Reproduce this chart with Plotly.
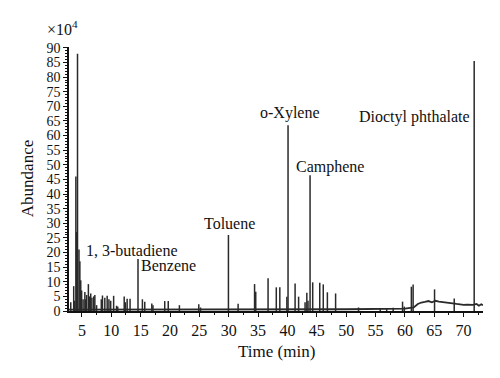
import plotly.graph_objects as go

# Peak retention times (min) and abundances (x10^4)
peak_times = [3.1, 3.6, 3.75, 3.97, 4.1, 4.25, 4.5, 4.65, 4.8, 4.95, 5.2, 5.5, 5.65, 5.8,
              6.1, 6.3, 6.5, 6.7, 7.0, 7.2, 7.5, 8.3, 8.5, 8.9, 9.3, 9.6, 9.9, 10.4, 10.9,
              11.1, 12.2, 12.4, 12.7, 13.2, 14.55, 15.3, 15.7, 16.9, 17.1, 19.1, 19.7,
              21.6, 24.9, 25.2, 29.95, 31.6, 34.4, 34.6, 36.7, 38.1, 38.7, 39.9, 40.1,
              41.3, 41.9, 43.0, 43.3, 43.5, 43.85, 44.3, 45.5, 46.1, 46.8, 48.2, 52.1,
              55.8, 56.9, 58.0, 59.6, 59.9, 61.1, 61.4, 65.05, 68.4, 71.8]
peak_heights = [3, 8.5, 3.5, 46, 27, 88, 21, 17, 10.5, 7, 4, 6.5, 4, 5.5,
                9.2, 5, 6, 4.5, 5, 5.5, 2, 4, 5.3, 4.5, 5.2, 4, 3.5, 5.2, 1.8,
                1.5, 5, 3, 4.2, 4.2, 17.8, 4, 3.2, 2.6, 2, 3.4, 3.4,
                2.0, 2.3, 1.2, 26, 2.5, 9.2, 6.6, 11.2, 8.1, 8.1, 4.9, 63.5,
                9.4, 4.9, 3, 6.2, 3.5, 46.4, 9.8, 9.7, 9.1, 6.4, 6.0, 1.2,
                1.0, 1.0, 1.1, 3.2, 1.5, 8.3, 9.1, 7.4, 4.3, 85.5]

# Baseline (including late-eluting hump)
base_times = [2.8, 10, 20, 30, 40, 50, 60, 61.5, 62.2, 62.8, 63.4, 64.0, 64.6, 65.2,
              65.8, 66.4, 67.0, 67.6, 68.2, 68.8, 69.4, 70.0, 70.6, 71.2, 71.6, 72.2,
              72.6, 73.0, 73.3]
base_values = [0.5, 0.5, 0.5, 0.5, 0.6, 0.6, 0.8, 1.2, 2.4, 2.9, 3.1, 3.4, 3.0, 3.5,
               3.2, 3.0, 2.9, 2.7, 2.5, 2.4, 2.3, 2.1, 2.2, 2.0, 2.1, 2.4,
               1.8, 2.3, 2.0]

labels = ["1, 3-butadiene", "Benzene", "Toluene", "o-Xylene", "Camphene", "Dioctyl phthalate"]
label_x = [13.6, 19.7, 30.1, 40.4, 47.2, 61.7]
label_y = [20.8, 15.7, 30.0, 67.6, 49.1, 66.2]

FONT = "Liberation Serif"
INK = "#2a2a2a"

sx, sy = [], []
for t, h in zip(peak_times, peak_heights):
    sx += [t, t, None]
    sy += [0, h, None]

fig = go.Figure()
fig.add_trace(go.Scatter(x=base_times, y=base_values, mode="lines",
                         line=dict(color=INK, width=1.8), hoverinfo="skip"))
fig.add_trace(go.Scatter(x=sx, y=sy, mode="lines",
                         line=dict(color=INK, width=1.5), hoverinfo="skip"))

for txt, x, y in zip(labels, label_x, label_y):
    fig.add_annotation(x=x, y=y, xref="x", yref="y", text=txt, showarrow=False,
                       xanchor="center", yanchor="middle",
                       font=dict(family=FONT, size=16, color="#111"))

fig.add_annotation(x=-0.0145, y=1.072, xref="paper", yref="paper", text="×10<sup>4</sup>",
                   showarrow=False, xanchor="center", yanchor="middle",
                   font=dict(family=FONT, size=16, color="#111"))
fig.add_annotation(x=-0.101, y=0.5, xref="paper", yref="paper", text="Abundance",
                   textangle=-90, showarrow=False, xanchor="center", yanchor="middle",
                   font=dict(family=FONT, size=17, color="#111"))
fig.add_annotation(x=0.502, y=-0.155, xref="paper", yref="paper", text="Time (min)",
                   showarrow=False, xanchor="center", yanchor="middle",
                   font=dict(family=FONT, size=17, color="#111"))

fig.update_layout(
    width=500, height=378,
    margin=dict(l=69, r=17, t=47, b=67),
    paper_bgcolor="white", plot_bgcolor="white",
    showlegend=False,
    font=dict(family=FONT, size=16, color="#111"),
)
fig.update_xaxes(range=[2.8, 73.3], tickmode="linear", tick0=0, dtick=5,
                 showline=True, linecolor="#111", linewidth=1.5, showgrid=False,
                 zeroline=False, ticks="outside", ticklen=4, tickcolor="#111",
                 minor=dict(dtick=2.5, ticks="outside", ticklen=2, tickcolor="#111"),
                 tickfont=dict(family=FONT, size=16, color="#111"))
fig.update_yaxes(range=[0, 90.3], tickmode="linear", tick0=0, dtick=5,
                 showline=True, linecolor="#111", linewidth=1.5, showgrid=False,
                 zeroline=False, ticks="outside", ticklen=4, tickcolor="#111",
                 minor=dict(dtick=1, ticks="outside", ticklen=2, tickcolor="#111"),
                 tickfont=dict(family=FONT, size=14, color="#111"))

fig.write_html("out.html", config={"displayModeBar": False},
               post_script="document.body.style.margin='0';document.body.style.overflow='hidden';")
